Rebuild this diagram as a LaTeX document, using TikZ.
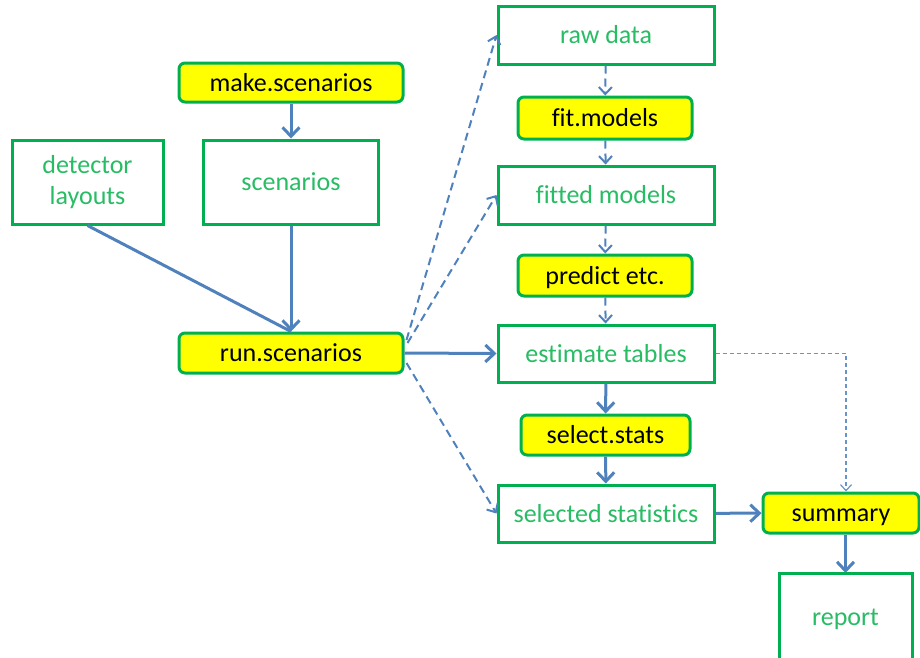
\documentclass[tikz,border=0pt]{standalone}
\usepackage{fontspec}
\setmainfont{Carlito}[Ligatures=CommonOff]
\usetikzlibrary{arrows.meta}
\definecolor{boxgreen}{RGB}{0,176,80}
\definecolor{txtgreen}{RGB}{40,188,100}
\definecolor{arrblue}{RGB}{79,129,189}
\definecolor{hlyellow}{RGB}{255,255,0}
\tikzset{
  databox/.style={draw=boxgreen, line width=3pt, fill=white, text=txtgreen, inner sep=0pt, align=center, font=\fontsize{26}{31}\selectfont},
  procbox/.style={draw=boxgreen, line width=3pt, fill=hlyellow, text=black, rounded corners=6pt, inner sep=0pt, align=center, text height=19pt, text depth=2pt, font=\fontsize{26}{31}\selectfont},
  flow/.style={draw=arrblue, line width=3pt, -{Straight Barb[length=9pt,width=17pt,line width=3pt]}},
  plainflow/.style={draw=arrblue, line width=3pt},
  dflow/.style={draw=arrblue, line width=2pt, dash pattern=on 8pt off 5pt, -{Straight Barb[length=7pt,width=13pt,line width=2pt]}},
  thinflow/.style={draw=arrblue!85, line width=1.2pt, dash pattern=on 4pt off 3pt, -{Straight Barb[length=6pt,width=11pt,line width=1.2pt]}}
}
\begin{document}
\begin{tikzpicture}[x=1pt,y=-1pt]
\useasboundingbox (0,0) rectangle (920,657);
\clip (0,0) rectangle (920,657);
\node[databox, minimum width=216pt, minimum height=58pt] (raw) at (606,35) {raw data};
\node[procbox, minimum width=224pt, minimum height=39pt] (make) at (291,82.5) {make.scenarios};
\node[procbox, minimum width=174pt, minimum height=42pt] (fitm) at (605,118) {fit.models};
\node[databox, minimum width=151pt, minimum height=84pt] (det) at (87.5,182) {detector\\layouts};
\node[databox, minimum width=175pt, minimum height=84pt] (scen) at (291,182) {scenarios};
\node[databox, minimum width=216pt, minimum height=58pt] (fitted) at (606,195) {fitted models};
\node[procbox, minimum width=174pt, minimum height=41pt] (pred) at (605,275.5) {predict etc.};
\node[procbox, minimum width=224pt, minimum height=40pt] (run) at (291,353) {run.scenarios};
\node[databox, minimum width=216pt, minimum height=57pt] (est) at (606,353.5) {estimate tables};
\node[procbox, minimum width=169pt, minimum height=40pt] (sel) at (605.5,435) {select.stats};
\node[databox, minimum width=216pt, minimum height=57pt] (selected) at (606,513.5) {selected statistics};
\node[procbox, minimum width=156pt, minimum height=40pt] (sum) at (841,513) {summary};
\node[databox, minimum width=133pt, minimum height=92pt] (rep) at (845.5,619) {report};
\coordinate (rep-in) at (845.5,573);

\draw[flow] (make) -- (scen);
\draw[flow] (scen) -- (run);
\draw[plainflow] (det.south) -- (run.north);
\draw[flow] (run.east) -- (est.west);
\draw[dflow] ([xshift=2pt,yshift=13pt]run.east) -- (raw.west);
\draw[dflow] ([xshift=3pt,yshift=10pt]run.east) -- (fitted.west);
\draw[dflow] ([xshift=2pt,yshift=-10pt]run.east) -- (selected.west);
\draw[dflow] (raw) -- (fitm);
\draw[dflow] (fitm) -- (fitted);
\draw[dflow] (fitted) -- (pred);
\draw[dflow] (pred) -- (est);
\draw[flow] (est) -- (sel);
\draw[flow] (sel) -- (selected);
\draw[flow] (selected) -- (sum);
\draw[flow] ([xshift=4.5pt]sum.south) -- (rep-in);
\draw[thinflow] (est.east) -| ([xshift=5pt]sum.north);
\end{tikzpicture}
\end{document}
